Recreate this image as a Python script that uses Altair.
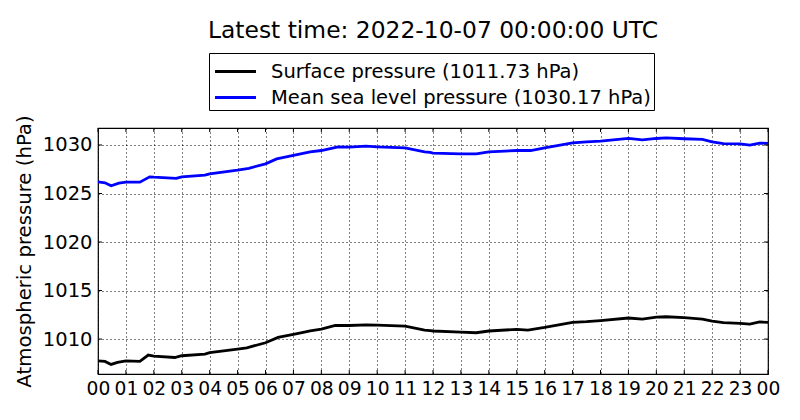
import altair as alt
import pandas as pd

sp_hours = [0, 0.25, 0.47, 0.7, 1, 1.5, 1.8, 2, 2.75, 3, 3.83, 4, 5, 5.33, 6, 6.45, 7, 7.35, 7.6, 8, 8.5, 9, 9.6, 10, 11, 11.7, 11.9,
            12, 13, 13.55, 14, 15, 15.4, 16, 17, 17.5, 18, 19, 19.5, 20, 20.35, 21, 21.65, 22, 22.4, 23, 23.35, 23.7, 24]
sp_vals = [1007.76, 1007.7, 1007.39, 1007.6, 1007.76, 1007.7, 1008.35, 1008.25, 1008.1, 1008.28, 1008.45, 1008.6, 1008.97, 1009.1,
           1009.62, 1010.17, 1010.48, 1010.7, 1010.85, 1011.03, 1011.4, 1011.4, 1011.47, 1011.44, 1011.34, 1010.93, 1010.86,
           1010.83, 1010.72, 1010.65, 1010.83, 1011.0, 1010.93, 1011.2, 1011.72, 1011.79, 1011.9, 1012.17, 1012.06, 1012.27,
           1012.3, 1012.2, 1012.06, 1011.86, 1011.7, 1011.62, 1011.55, 1011.76, 1011.73]

msl_hours = [0, 0.25, 0.47, 0.75, 1, 1.5, 1.85, 2, 2.8, 3, 3.83, 4, 5, 5.4, 6, 6.4, 7, 7.6, 8, 8.6, 9, 9.6, 10, 11, 11.7, 11.9,
             12, 13, 13.55, 14, 15, 15.5, 16, 17, 17.5, 18, 19, 19.5, 20, 20.35, 21, 21.65, 22, 22.4, 23, 23.35, 23.7, 24]
msl_vals = [1026.2, 1026.1, 1025.79, 1026.07, 1026.17, 1026.17, 1026.72, 1026.68, 1026.55, 1026.72, 1026.9, 1027.03, 1027.4,
            1027.6, 1028.06, 1028.57, 1028.92, 1029.3, 1029.43, 1029.8, 1029.78, 1029.88, 1029.8, 1029.7, 1029.3, 1029.23,
            1029.16, 1029.09, 1029.09, 1029.3, 1029.43, 1029.43, 1029.7, 1030.22, 1030.33, 1030.4, 1030.67, 1030.53, 1030.67,
            1030.74, 1030.64, 1030.57, 1030.33, 1030.15, 1030.12, 1029.98, 1030.19, 1030.17]

series_names = ["Surface pressure (1011.73 hPa)", "Mean sea level pressure (1030.17 hPa)"]
series_colors = ["#000000", "#0000ff"]
x_ticks = list(range(25))
y_ticks = [1010, 1015, 1020, 1025, 1030]
title_text = "Latest time: 2022-10-07 00:00:00 UTC"

df = pd.concat([
    pd.DataFrame({"hour": sp_hours, "p": sp_vals, "series": series_names[0], "order": 0}),
    pd.DataFrame({"hour": msl_hours, "p": msl_vals, "series": series_names[1], "order": 1}),
])
df_xt = pd.DataFrame({"hour": x_ticks})
df_yt = pd.DataFrame({"p": y_ticks})

FONT = "DejaVu Sans"
W, H = 670, 246
TICK = 4

x_scale = alt.Scale(domain=[0, 24], nice=False, zero=False)
y_scale = alt.Scale(domain=[1006.4, 1031.75], nice=False, zero=False)

x_axis = alt.Axis(values=x_ticks, title=None,
                  labelExpr="(datum.value % 24 < 10 ? '0' : '') + (datum.value % 24)",
                  labelFontSize=18.7, labelFont=FONT, labelColor="black",
                  labelPadding=5, ticks=False, domain=False,
                  grid=True, gridColor="black", gridDash=[1, 3], gridOpacity=1, gridWidth=1,
                  labelOverlap=False, labelFlush=False)
y_axis = alt.Axis(values=y_ticks, title="Atmospheric pressure (hPa)", format="d",
                  titleFontSize=19.7, titleFont=FONT, titleFontWeight="normal", titleColor="black",
                  titlePadding=8,
                  labelFontSize=19.5, labelFont=FONT, labelColor="black",
                  labelPadding=6, ticks=False, domain=False,
                  grid=True, gridColor="black", gridDash=[1, 3], gridOpacity=1, gridWidth=1,
                  labelOverlap=False, labelFlush=False)

lines = alt.Chart(df).mark_line(strokeWidth=2.8, clip=True).encode(
    x=alt.X("hour:Q", scale=x_scale, axis=x_axis),
    y=alt.Y("p:Q", scale=y_scale, axis=y_axis),
    color=alt.Color("series:N", scale=alt.Scale(domain=series_names, range=series_colors),
                    legend=alt.Legend(title=None, orient="none", legendX=111, legendY=-75,
                                      strokeColor="black", fillColor="white", padding=3,
                                      labelFontSize=19.5, labelFont=FONT, labelColor="black", labelLimit=0,
                                      symbolType="M-1.5,0L1.5,0", symbolStrokeWidth=2.8, symbolSize=745,
                                      symbolFillColor="transparent", symbolOffset=8,
                                      labelOffset=20, rowPadding=1, cornerRadius=0)),
    order="order:Q",
)

xt_bottom = alt.Chart(df_xt).mark_rule(color="black", strokeWidth=1).encode(
    x=alt.X("hour:Q", scale=x_scale, axis=x_axis), y=alt.value(H), y2=alt.value(H - TICK))
xt_top = alt.Chart(df_xt).mark_rule(color="black", strokeWidth=1).encode(
    x=alt.X("hour:Q", scale=x_scale, axis=x_axis), y=alt.value(0), y2=alt.value(TICK))
yt_left = alt.Chart(df_yt).mark_rule(color="black", strokeWidth=1).encode(
    y=alt.Y("p:Q", scale=y_scale, axis=y_axis), x=alt.value(0), x2=alt.value(TICK))
yt_right = alt.Chart(df_yt).mark_rule(color="black", strokeWidth=1).encode(
    y=alt.Y("p:Q", scale=y_scale, axis=y_axis), x=alt.value(W), x2=alt.value(W - TICK))

chart = alt.layer(lines, xt_bottom, xt_top, yt_left, yt_right).properties(
    width=W, height=H,
    title=alt.TitleParams(title_text, fontSize=23.4, font=FONT, fontWeight="normal", color="black",
                          anchor="middle", offset=9),
    autosize=alt.AutoSizeParams(type="none"),
    padding={"left": 90, "top": 120, "right": 24, "bottom": 30},
).configure_view(stroke="black", strokeWidth=1.2)

chart.save("out.html", embed_options={"renderer": "svg", "actions": False})
